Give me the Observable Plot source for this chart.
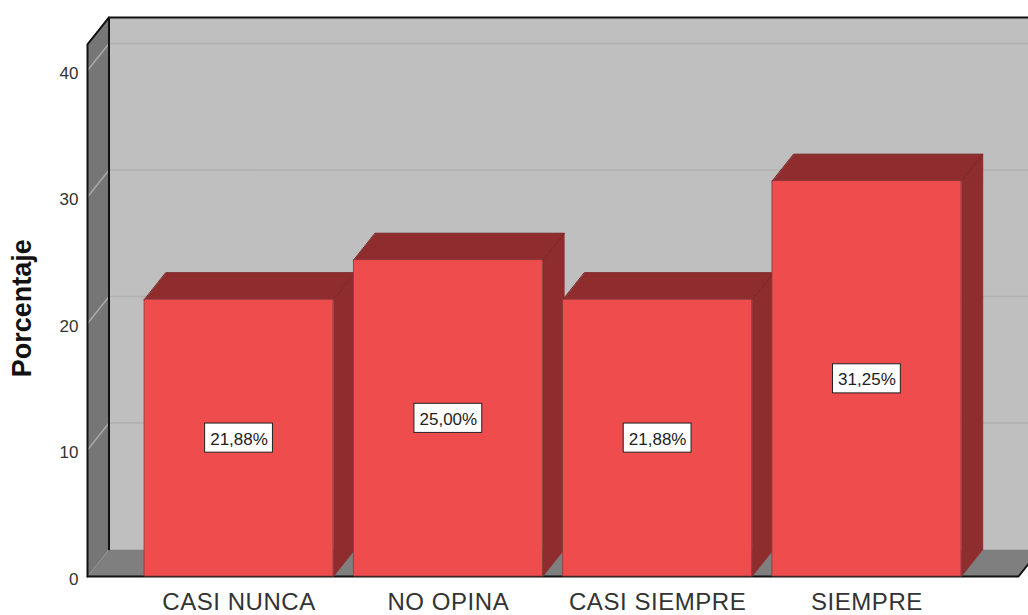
<!DOCTYPE html>
<html>
<head>
<meta charset="utf-8">
<script src="https://cdn.jsdelivr.net/npm/d3@7"></script>
<script src="https://cdn.jsdelivr.net/npm/@observablehq/plot@0.6"></script>
<style>html,body{margin:0;padding:0;background:#fff}svg{display:block}
g[aria-label="x-axis tick label"] text{letter-spacing:.55px}</style>
</head>
<body>
<div id="chart"></div>
<script>
const categories = ["CASI NUNCA", "NO OPINA", "CASI SIEMPRE", "SIEMPRE"];
const values = [21.88, 25.00, 21.88, 31.25];
const valueLabels = ["21,88%", "25,00%", "21,88%", "31,25%"];
const yTicks = [0, 10, 20, 30, 40];
const yTitle = "Porcentaje";

const xMin = -0.724, xMax = 3.772, xEnd = 3.724, yMax = 45.53, wallTop = 42.06;
const half = 0.4515, dx3 = 0.1027, dy3 = 2.134;
const boxW = 0.162, boxH = 1.15;
const poly = (id, pts) => pts.map(([x, y]) => ({id, x, y}));

const backWall = poly("back", [[xMin + dx3, dy3], [xMax + 1, dy3], [xMax + 1, wallTop + dy3], [xMin + dx3, wallTop + dy3]]);
const leftWall = poly("left", [[xMin, 0], [xMin + dx3, dy3], [xMin + dx3, wallTop + dy3], [xMin, wallTop]]);
const floor = poly("floor", [[xMin, 0], [xEnd, 0], [xEnd + dx3, dy3], [xMin + dx3, dy3]]);
const leftGrid = yTicks.slice(1).flatMap(v => [{v, x: xMin, y: v}, {v, x: xMin + dx3, y: v + dy3}]);
const backGrid = yTicks.slice(1).flatMap(v => [{v, x: xMin + dx3, y: v + dy3}, {v, x: xMax + 1, y: v + dy3}]);
const outline = [
  ...poly("a", [[xMin, 0], [xMin, wallTop], [xMin + dx3, wallTop + dy3], [xMax + 1, wallTop + dy3]]),
  ...poly("b", [[xMin + dx3, wallTop + dy3], [xMin + dx3, dy3]]),
  ...poly("c", [[xMin, 0], [xEnd, 0], [xEnd + dx3, dy3]])
];

const bars = values.map((v, i) => ({i, v, x1: i - half, x2: i + half}));
const sideFaces = bars.flatMap(b => poly("s" + b.i, [[b.x2, 0], [b.x2 + dx3, dy3], [b.x2 + dx3, b.v + dy3], [b.x2, b.v]]));
const topFaces = bars.flatMap(b => poly("t" + b.i, [[b.x1, b.v], [b.x2, b.v], [b.x2 + dx3, b.v + dy3], [b.x1 + dx3, b.v + dy3]]));

const face = (data, fill, stroke = "none", strokeWidth = 1) =>
  Plot.line(data, {x: "x", y: "y", z: "id", curve: "linear-closed", fill, stroke, strokeWidth});

const plot = Plot.plot({
  width: 1028, height: 615,
  marginLeft: 87, marginRight: 0, marginTop: 0, marginBottom: 39,
  x: {domain: [xMin, xMax], range: [87, 1028], axis: null},
  y: {domain: [0, yMax], range: [576, 0], axis: null},
  style: {fontFamily: "'Liberation Sans', Arial, sans-serif", background: "#fff", overflow: "hidden"},
  marks: [
    face(backWall, "#bfbfbf"),
    face(floor, "#7f7f7f"),
    face(leftWall, "#767676"),
    Plot.line(backGrid, {x: "x", y: "y", z: "v", stroke: "#b0b0ae", strokeWidth: 1.5}),
    Plot.line(leftGrid, {x: "x", y: "y", z: "v", stroke: "#a9a9a9", strokeWidth: 1.5}),
    Plot.line(outline, {x: "x", y: "y", z: "id", stroke: "#111", strokeWidth: 2}),
    ...bars.flatMap((b, i) => [
      face(sideFaces.filter(d => d.id === "s" + i), "#8f2d2e", "#8f2d2e", 0.5),
      face(topFaces.filter(d => d.id === "t" + i), "#8f2d2e", "#7a2425", 1),
      Plot.rectY([b], {x1: "x1", x2: "x2", y1: 0, y2: "v", fill: "#ee4c4d", stroke: "#8a3a3a", strokeWidth: 0.8})
    ]),
    Plot.rect(bars, {
      x1: d => d.i - boxW, x2: d => d.i + boxW,
      y1: d => d.v / 2 - boxH, y2: d => d.v / 2 + boxH,
      fill: "#fff", stroke: "#222", strokeWidth: 1
    }),
    Plot.text(bars, {
      x: "i", y: d => d.v / 2, text: d => valueLabels[d.i],
      fontSize: 17, fill: "#222", dy: 1
    }),
    Plot.axisY(yTicks, {
      tickSize: 0, tickPadding: 9, fontSize: 17, dy: 3, label: null, color: "#333"
    }),
    Plot.axisX([0, 1, 2, 3], {
      tickSize: 0, tickPadding: 16, fontSize: 24, label: null, color: "#333",
      tickFormat: i => categories[i]
    }),
    Plot.text([yTitle], {
      x: xMin, y: 21.2, dx: -65, rotate: -90,
      text: d => d, fontSize: 27, fontWeight: "bold", fill: "#111"
    })
  ]
});
document.getElementById("chart").append(plot);
</script>
</body>
</html>
